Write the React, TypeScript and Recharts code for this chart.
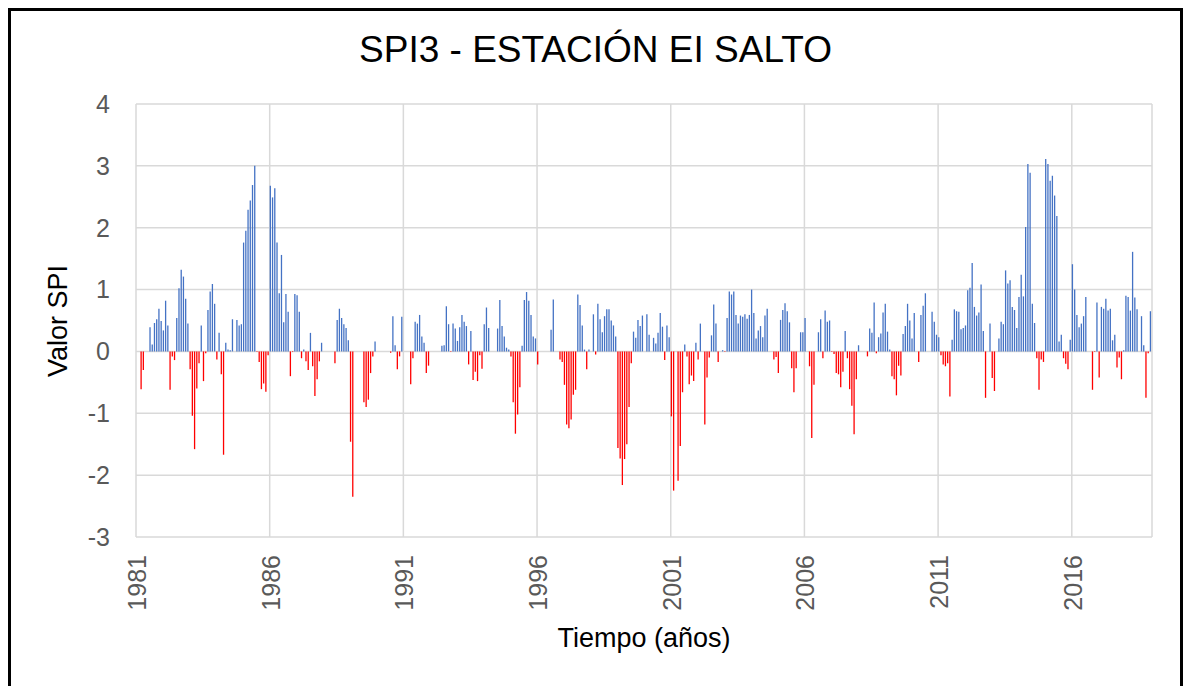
import React from 'react';
import { BarChart, Bar, Cell, XAxis, YAxis, CartesianGrid } from 'recharts';

// SPI3 mensual, enero 1981 - diciembre 2018 (los dos primeros meses sin dato)
const monthlySpi3: (number | null)[] = [
  // 1981
  null, null, -0.61, -0.3, 0, 0, 0.39, 0.11, 0.46, 0.52, 0.69, 0.49,
  // 1982
  0.34, 0.82, 0.42, -0.62, -0.08, -0.14, 0.54, 1.02, 1.32, 1.21, 0.85, 0.45,
  // 1983
  -0.29, -1.04, -1.58, -0.6, -0.19, 0.42, -0.48, -0.03, 0.67, 0.97, 1.09, 0.77,
  // 1984
  -0.13, 0.3, -0.37, -1.67, 0.14, 0.03, 0.02, 0.52, 0, 0.51, 0.42, 0.44,
  // 1985
  1.76, 1.95, 2.29, 2.44, 2.69, 3.0, -0.01, -0.17, -0.61, -0.52, -0.65, -0.06,
  // 1986
  2.68, 2.49, 2.64, 1.76, 0.94, 1.56, 0.47, 0.93, 0.64, -0.4, -0.01, 0.93,
  // 1987
  0.91, 0.64, -0.11, 0.03, -0.16, -0.3, 0.3, -0.24, -0.72, -0.45, -0.16, 0.14,
  // 1988
  0, 0, 0, 0, 0, -0.19, 0.51, 0.69, 0.54, 0.44, 0.38, 0.18,
  // 1989
  -1.46, -2.35, 0, 0, 0, 0, -0.82, -0.9, -0.78, -0.35, -0.08, 0.16,
  // 1990
  0, 0, 0, 0, 0, 0, -0.02, 0.57, 0.1, -0.29, -0.08, 0.56,
  // 1991
  0, 0, 0, -0.53, -0.11, 0.48, 0.45, 0.59, 0.24, 0.14, -0.35, -0.23,
  // 1992
  0, 0, 0, 0, 0, 0.09, 0.1, 0.73, 0.44, -0.01, 0.45, 0.37,
  // 1993
  0.17, 0.39, 0.59, 0.48, 0.41, -0.21, 0.33, -0.46, -0.33, -0.48, -0.06, -0.28,
  // 1994
  0.44, 0.71, 0.38, 0, 0, 0, 0.37, 0.83, 0.41, 0.24, 0.06, 0.03,
  // 1995
  -0.08, -0.82, -1.33, -1.02, -0.58, 0.09, 0.83, 0.96, 0.82, 0.59, 0.24, 0.21,
  // 1996
  -0.21, 0, 0, 0, 0, 0, 0.35, 0.84, 0, 0, -0.13, -0.17,
  // 1997
  -0.54, -1.18, -1.24, -1.1, -0.7, -0.62, 0.92, 0.75, 0.42, 0.03, -0.29, 0.03,
  // 1998
  0, 0.6, -0.05, 0.77, 0.52, 0.31, 0.57, 0.68, 0.68, 0.5, 0.42, 0.24,
  // 1999
  -1.56, -1.73, -2.16, -1.74, -1.5, -0.9, -0.19, 0.32, 0.22, 0.51, 0.41, 0.58,
  // 2000
  0, 0.6, 0.27, 0, 0.22, 0.13, 0.3, 0.62, 0.4, -0.14, 0.42, 0.23,
  // 2001
  -1.05, -2.25, 0, -2.09, -1.53, -0.66, 0.11, -0.08, -0.53, -0.39, -0.48, 0.14,
  // 2002
  -0.13, 0.45, 0, -1.18, -0.42, -0.1, 0.26, 0.76, 0.45, -0.17, 0, 0.02,
  // 2003
  -0.01, 0.54, 0.97, 0.92, 0.97, 0.59, 0.45, 0.58, 0.56, 0.6, 0.53, 0.59,
  // 2004
  1.0, 0.62, 0.21, 0.34, 0.41, 0.23, 0.58, 0.69, 0, 0, -0.13, -0.09,
  // 2005
  -0.35, 0.51, 0.67, 0.78, 0.65, 0.47, -0.27, -0.66, -0.27, 0, 0.31, 0.31,
  // 2006
  0.54, 0, -0.24, -1.4, -0.54, 0, 0.31, 0.52, -0.11, 0.66, 0.48, 0.5,
  // 2007
  -0.01, -0.04, -0.35, -0.37, -0.58, -0.33, 0.33, -0.11, -0.61, -0.88, -1.34, -0.45,
  // 2008
  0.1, 0, 0, 0, -0.08, 0.37, 0.3, 0.79, -0.03, 0.23, 0.29, 0.63,
  // 2009
  0.77, 0.32, 0.03, -0.4, -0.45, -0.71, -0.23, -0.39, 0.28, 0.41, 0.77, 0.5,
  // 2010
  0.21, 0.62, 0, -0.17, 0.59, 0.74, 0.94, 0, 0, 0.64, 0.48, 0.27,
  // 2011
  0.23, -0.06, -0.21, -0.24, -0.19, -0.73, 0.19, 0.68, 0.65, 0.64, 0.36, 0.38,
  // 2012
  0.42, 0.99, 1.03, 1.43, 0.72, 0.58, 0.63, 1.08, 0.33, -0.75, 0, 0.45,
  // 2013
  -0.43, -0.64, 0, 0.21, 0.48, 0.44, 1.31, 1.1, 1.15, 0.72, 0.67, 0.38,
  // 2014
  0.88, 1.24, 0.89, 2.01, 3.03, 2.89, 0.77, 0.46, -0.11, -0.62, -0.13, -0.17,
  // 2015
  3.11, 3.03, 2.76, 2.84, 2.52, 2.19, 0.16, 0.27, -0.11, -0.2, -0.29, 0.19,
  // 2016
  1.41, 1.0, 0.59, 0.39, 0.45, 0.57, 0.88, 0, 0, -0.62, -0.01, 0.79,
  // 2017
  -0.42, 0.72, 0.69, 0.85, 0.66, 0.69, 0.18, 0.27, -0.26, -0.1, -0.45, 0.02,
  // 2018
  0.9, 0.88, 0.66, 1.61, 0.87, 0.68, 0, 0.57, 0.1, -0.75, -0.03, 0.65,
];

const startYear = 1981;
const yearLabels = [1981, 1986, 1991, 1996, 2001, 2006, 2011, 2016];
const spiTicks = [-3, -2, -1, 0, 1, 2, 3, 4];

const BLUE = '#4472C4';
const RED = '#FF0000';
const FONT = '"Liberation Sans", Arial, sans-serif';

// eje x en meses desde enero 1981; cada barra en el centro de su mes
const chartData = monthlySpi3.map((v, i) => ({ t: i + 0.5, v }));
const monthTicks = yearLabels.map((y) => (y - startYear) * 12);

if (typeof document !== 'undefined') document.body.style.overflow = 'hidden';

const YearTick = (props: any) => {
  const { x, payload } = props;
  return (
    <text
      transform={`translate(${x + 10},544) rotate(-90)`}
      textAnchor="end"
      fontSize={25}
      fill="#595959"
      fontFamily={FONT}>
      {startYear + payload.value / 12}
    </text>
  );
};

export default function App() {
  return (
    <div
      style={{
        position: 'relative',
        width: 1175,
        height: 678,
        boxSizing: 'border-box',
        borderTop: '3px solid #000',
        borderLeft: '3px solid #000',
        borderRight: '3px solid #000',
        background: '#fff',
      }}>
      <BarChart
        width={1169}
        height={675}
        data={chartData}
        margin={{ top: 93, right: 28, left: 0, bottom: 0 }}>
        <CartesianGrid stroke="#d9d9d9" strokeWidth={1.5} />
        <XAxis
          dataKey="t"
          type="number"
          domain={[0, 456]}
          ticks={monthTicks}
          interval={0}
          tick={<YearTick />}
          tickLine={false}
          axisLine={false}
          height={149}
        />
        <YAxis
          domain={[-3, 4]}
          ticks={spiTicks}
          interval={0}
          width={125}
          tickLine={false}
          axisLine={false}
          tickSize={0}
          tickMargin={26}
          tick={{ fontSize: 25, fill: '#595959', fontFamily: FONT }}
        />
        <Bar dataKey="v" barSize={1.3} isAnimationActive={false}>
          {chartData.map((d, i) => (
            <Cell key={i} fill={d.v !== null && d.v < 0 ? RED : BLUE} />
          ))}
        </Bar>
      </BarChart>
      <svg
        width={1169}
        height={675}
        style={{ position: 'absolute', left: 0, top: 0, pointerEvents: 'none' }}>
        <text x={584.5} y={51} textAnchor="middle" fontSize={37} fill="#000" fontFamily={FONT}>
          SPI3 - ESTACIÓN EI SALTO
        </text>
        <text
          transform="translate(56,310) rotate(-90)"
          textAnchor="middle"
          fontSize={27}
          fill="#000"
          fontFamily={FONT}>
          Valor SPI
        </text>
        <text x={633} y={636} textAnchor="middle" fontSize={27} fill="#000" fontFamily={FONT}>
          Tiempo (años)
        </text>
      </svg>
    </div>
  );
}
